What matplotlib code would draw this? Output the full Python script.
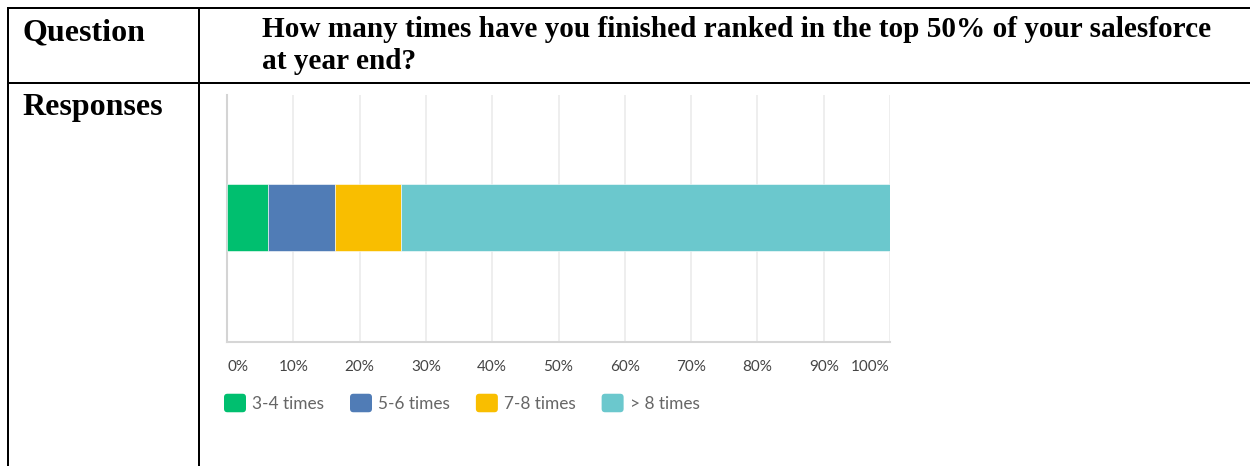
import matplotlib
matplotlib.use("Agg")
import matplotlib.pyplot as plt
from matplotlib.lines import Line2D
from matplotlib.patches import FancyBboxPatch
from matplotlib.legend_handler import HandlerPatch

# ---- data ----
categories = ["3-4 times", "5-6 times", "7-8 times", "> 8 times"]
values = [6.25, 10.0, 10.0, 73.75]
colors = ["#00BF6F", "#507CB6", "#F9BE00", "#6BC8CD"]
tick_values = [0, 10, 20, 30, 40, 50, 60, 70, 80, 90, 100]
tick_labels = ["0%", "10%", "20%", "30%", "40%", "50%", "60%", "70%", "80%", "90%", "100%"]
question_label = "Question"
responses_label = "Responses"
question_lines = ["How many times have you finished ranked in the top 50% of your salesforce",
                  "at year end?"]

W, H = 1250, 466
DPI = 100
fig = plt.figure(figsize=(W / DPI, H / DPI), dpi=DPI)
fig.patch.set_facecolor("white")


def fx(x):
    return x / W


def fy(y):
    return 1 - y / H


# ---- table lines ----
lw_tab = 2 * 72 / DPI
for (x0, y0, x1, y1) in [(7, 8, 1250, 8), (7.5, 8, 7.5, 466), (199, 8, 199, 466), (7, 83, 1250, 83)]:
    fig.add_artist(Line2D([fx(x0), fx(x1)], [fy(y0), fy(y1)], color="black", lw=lw_tab,
                          transform=fig.transFigure, solid_capstyle="butt"))

serif = ["Liberation Serif", "DejaVu Serif"]
fig.text(fx(22), fy(40), question_label, family=serif, fontweight="bold", fontsize=23,
         ha="left", va="baseline")
fig.text(fx(22), fy(115), responses_label, family=serif, fontweight="bold", fontsize=23,
         ha="left", va="baseline")
fig.text(fx(262), fy(37), question_lines[0], family=serif, fontweight="bold", fontsize=21.1,
         ha="left", va="baseline")
fig.text(fx(262), fy(69), question_lines[1], family=serif, fontweight="bold", fontsize=21.1,
         ha="left", va="baseline")

# ---- chart ----
ax_l, ax_r, ax_t, ax_b = 227, 890, 95, 342
ax = fig.add_axes([fx(ax_l), fy(ax_b), fx(ax_r - ax_l), (ax_b - ax_t) / H])
ax.set_xlim(0, 100)
ax.set_ylim(-0.5, 0.5)

left = 0
handles = []
for cat, val, col in zip(categories, values, colors):
    b = ax.barh([0.004], [val], left=left, height=0.271, color=col, edgecolor="#ffffff",
                linewidth=0.4, label=cat, zorder=3)
    handles.append(b[0])
    left += val

ax.set_xticks(tick_values)
ax.set_xticklabels(tick_labels)
ax.set_yticks([])
ax.grid(axis="x", color="#ebebeb", lw=1.2, zorder=0)
ax.tick_params(axis="x", length=0, pad=13, labelsize=11, labelcolor="#444444")
for lab in ax.get_xticklabels():
    lab.set_family(["Lato", "DejaVu Sans"])
labs = ax.get_xticklabels()
labs[0].set_horizontalalignment("left")
labs[-1].set_horizontalalignment("right")
for s in ["top", "right"]:
    ax.spines[s].set_visible(False)
ax.spines["left"].set_color("#d4d4d4")
ax.spines["left"].set_linewidth(1.5)
ax.spines["bottom"].set_color("#d6d6d6")
ax.spines["bottom"].set_linewidth(1.5)


class RoundHandler(HandlerPatch):
    def create_artists(self, legend, orig_handle, xdescent, ydescent, width, height, fontsize, trans):
        p = FancyBboxPatch((-xdescent + 1.5, -ydescent + 1.5), width - 3, height - 3,
                           boxstyle="round,pad=1.5,rounding_size=2.5",
                           facecolor=orig_handle.get_facecolor(), edgecolor="none",
                           transform=trans)
        return [p]


fs_leg = 12.4
px_per_fs = fs_leg * DPI / 72
leg = fig.legend(handles, categories, handler_map={h: RoundHandler() for h in handles},
                 loc="center left", bbox_to_anchor=(fx(224), fy(403)), ncol=4, frameon=False,
                 fontsize=fs_leg, handlelength=22 / px_per_fs, handleheight=22 / px_per_fs,
                 handletextpad=6 / px_per_fs, columnspacing=26 / px_per_fs, borderpad=0,
                 borderaxespad=0, prop={"family": ["Lato", "DejaVu Sans"], "size": fs_leg})
for t in leg.get_texts():
    t.set_color("#666666")

fig.savefig("out.png", dpi=DPI, facecolor="white")
